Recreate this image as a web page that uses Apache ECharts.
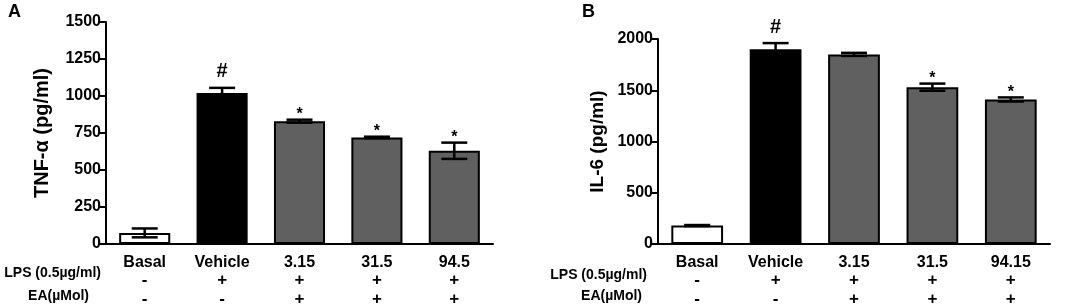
<!DOCTYPE html>
<html>
<head>
<meta charset="utf-8">
<script src="https://cdn.jsdelivr.net/npm/echarts@6/dist/echarts.min.js"></script>
<style>
  html, body { margin: 0; padding: 0; background: #fff; }
  #chart { width: 1065px; height: 308px; }
</style>
</head>
<body>
<div id="chart"></div>
<script>
// TNF-a / IL-6 bar panels with error bars

const categoriesA = ['Basal', 'Vehicle', '3.15', '31.5', '94.5'];
const categoriesB = ['Basal', 'Vehicle', '3.15', '31.5', '94.15'];
const lpsSigns = ['-', '+', '+', '+', '+'];
const eaSigns = ['-', '-', '+', '+', '+'];

const tnfValues = [75, 1020, 830, 720, 630];
const tnfErrors = [30, 35, 10, 5, 55];
const tnfMarks = ['', '#', '*', '*', '*'];

const il6Values = [180, 1900, 1850, 1530, 1410];
const il6Errors = [5, 60, 15, 35, 20];
const il6Marks = ['', '#', '', '*', '*'];

const barColors = ['#ffffff', '#000000', '#606060', '#606060', '#606060'];

const fontFam = '"Liberation Sans", Arial, sans-serif';

function errorBars(values, errors, marks) {
    return function (params, api) {
        const i = api.value(0);
        const v = api.value(1);
        const e = api.value(2);
        const top = api.coord([i, v + e]);
        const bot = api.coord([i, v - e]);
        const hw = 13;
        const ls = { stroke: '#000', lineWidth: 2.5 };
        const kids = [
            { type: 'line', shape: { x1: top[0], y1: top[1], x2: bot[0], y2: bot[1] }, style: ls },
            { type: 'line', shape: { x1: top[0] - hw, y1: top[1], x2: top[0] + hw, y2: top[1] }, style: ls },
            { type: 'line', shape: { x1: bot[0] - hw, y1: bot[1], x2: bot[0] + hw, y2: bot[1] }, style: ls }
        ];
        const m = marks[params.dataIndex];
        if (m) {
            const big = m === '#';
            kids.push({
                type: 'text',
                style: {
                    text: m,
                    x: top[0],
                    y: top[1] - (big ? 16 : 5),
                    align: 'center',
                    verticalAlign: 'middle',
                    font: 'bold ' + (big ? 20 : 16) + 'px ' + fontFam,
                    fill: '#000'
                }
            });
        }
        return { type: 'group', children: kids };
    };
}

function catAxis(grid, cats) {
    return {
        type: 'category',
        gridIndex: grid,
        data: cats,
        axisLine: { lineStyle: { color: '#000', width: 2 } },
        axisTick: { alignWithLabel: true, length: 6, lineStyle: { color: '#000', width: 2 } },
        axisLabel: {
            margin: 10,
            interval: 0,
            formatter: function (val, idx) {
                return '{c|' + val + '}\n{s|' + lpsSigns[idx] + '}\n{s|' + eaSigns[idx] + '}';
            },
            rich: {
                c: { fontSize: 16, fontWeight: 'bold', fontFamily: fontFam, color: '#000', lineHeight: 17 },
                s: { fontSize: 17, fontWeight: 'bold', fontFamily: fontFam, color: '#000', lineHeight: 19 }
            }
        }
    };
}

function valAxis(grid, max, interval, name, gap, nameSize) {
    return {
        type: 'value',
        gridIndex: grid,
        min: 0,
        max: max,
        interval: interval,
        name: name,
        nameLocation: 'middle',
        nameRotate: 90,
        nameGap: gap,
        nameTextStyle: { fontSize: nameSize, fontWeight: 'bold', fontFamily: fontFam, color: '#000' },
        axisLine: { show: true, lineStyle: { color: '#000', width: 2 } },
        axisTick: { show: true, length: 6, lineStyle: { color: '#000', width: 2 } },
        axisLabel: {
            fontSize: 16, fontWeight: 'bold', fontFamily: fontFam, color: '#000', margin: 5,
            formatter: function (v) { return String(v); }
        },
        splitLine: { show: false }
    };
}

function barSeries(idx, values) {
    return {
        type: 'bar',
        xAxisIndex: idx,
        yAxisIndex: idx,
        barWidth: '66%',
        data: values.map(function (v, i) {
            return { value: v, itemStyle: { color: barColors[i], borderColor: '#000', borderWidth: 2 } };
        }),
        z: 2
    };
}

function errSeries(idx, values, errors, marks) {
    return {
        type: 'custom',
        xAxisIndex: idx,
        yAxisIndex: idx,
        renderItem: errorBars(values, errors, marks),
        data: values.map(function (v, i) { return [i, v, errors[i]]; }),
        z: 3
    };
}

function rowLabel(text, right, y) {
    return {
        type: 'text',
        x: right,
        y: y,
        style: {
            text: text,
            align: 'right',
            verticalAlign: 'middle',
            font: 'bold 14px ' + fontFam,
            fill: '#000'
        }
    };
}

const option = {
    backgroundColor: '#fff',
    animation: false,
    grid: [
        { left: 106, top: 22, width: 387, height: 222 },
        { left: 658, top: 39, width: 392, height: 208 }
    ],
    xAxis: [catAxis(0, categoriesA), catAxis(1, categoriesB)],
    yAxis: [
        valAxis(0, 1500, 250, 'TNF-\u03b1 (pg/ml)', 54, 20),
        valAxis(1, 2000, 500, 'IL-6 (pg/ml)', 51, 19)
    ],
    series: [
        barSeries(0, tnfValues),
        errSeries(0, tnfValues, tnfErrors, tnfMarks),
        barSeries(1, il6Values),
        errSeries(1, il6Values, il6Errors, il6Marks)
    ],
    graphic: [
        { type: 'text', x: 8, y: 3, style: { text: 'A', font: 'bold 18px ' + fontFam, fill: '#000' } },
        { type: 'text', x: 582, y: 3, style: { text: 'B', font: 'bold 18px ' + fontFam, fill: '#000' } },
        rowLabel('LPS (0.5\u00b5g/ml)', 101, 273),
        rowLabel('EA(\u00b5Mol)', 89, 296),
        rowLabel('LPS (0.5\u00b5g/ml)', 647, 275),
        rowLabel('EA(\u00b5Mol)', 642, 296)
    ]
};

const chart = echarts.init(document.getElementById('chart'));
chart.setOption(option);
</script>
</body>
</html>
